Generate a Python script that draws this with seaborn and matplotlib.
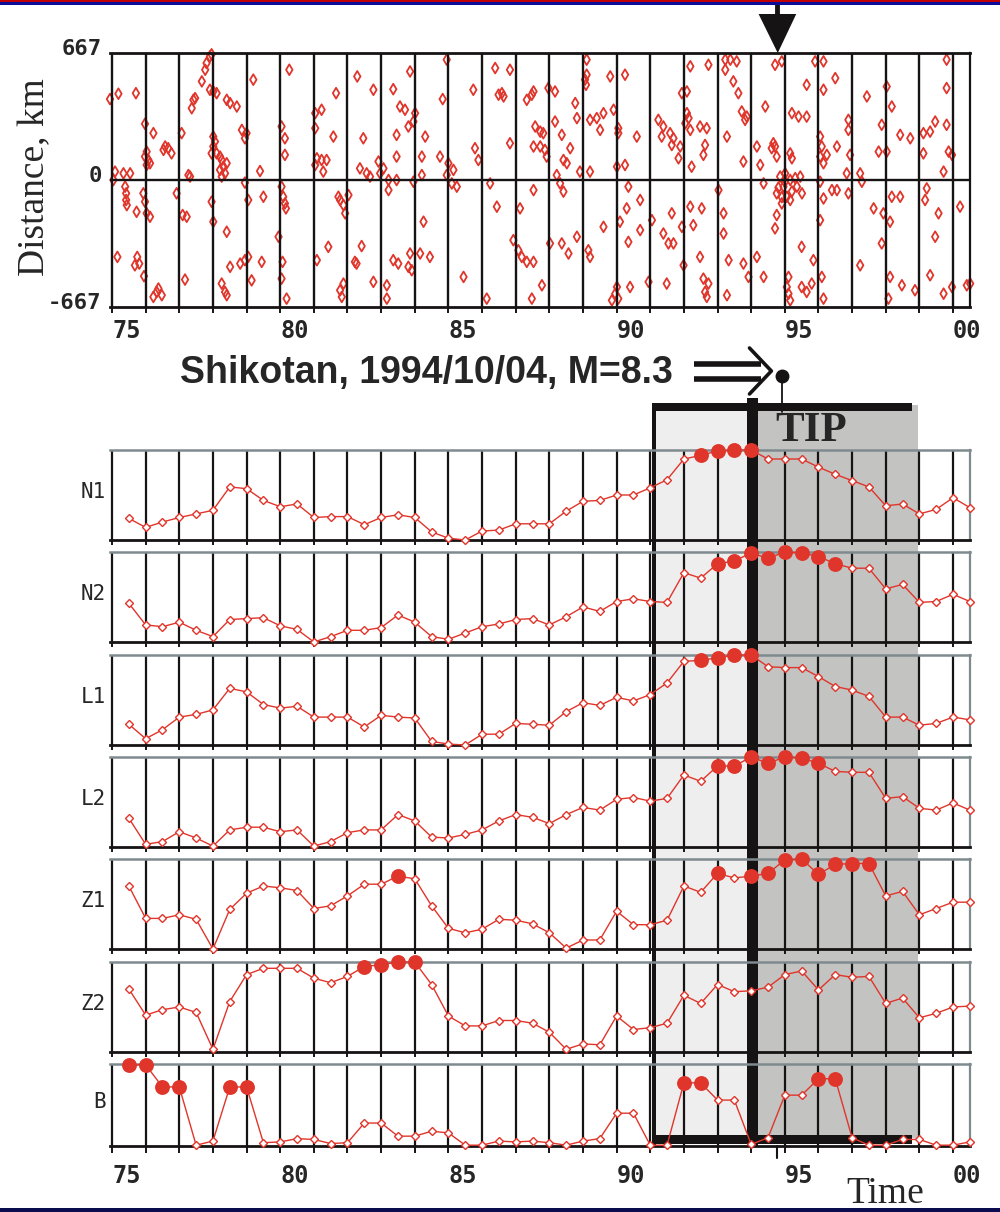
import numpy as np
import pandas as pd
import matplotlib
matplotlib.use("Agg")
import matplotlib.pyplot as plt
import seaborn as sns
from matplotlib.patches import Rectangle, Polygon
from matplotlib.transforms import ScaledTranslation

# ---------------- data ----------------
# event epicentres (top panel): time (years) and distance along the zone (km)
ev_year = [
    1974.94, 1975.19, 1975.71, 1975.98, 1976.23, 1975.09, 1975.34, 1975.54, 1975.04, 1975.39,
    1975.42, 1975.42, 1975.44, 1975.93, 1975.98, 1975.73, 1976.03, 1976.13, 1975.98, 1976.08,
    1976.03, 1976.13, 1976.03, 1975.16, 1975.75, 1975.81, 1975.68, 1975.95, 1976.33, 1976.48,
    1976.23, 1976.38, 1976.58, 1976.67, 1976.77, 1976.53, 1977.07, 1976.92, 1977.10, 1977.22,
    1977.17, 1977.27, 1977.32, 1977.67, 1977.77, 1977.81, 1977.91, 1977.96, 1977.42, 1977.37,
    1977.47, 1977.91, 1978.11, 1978.01, 1978.01, 1978.06, 1978.01, 1978.11, 1977.96, 1978.21,
    1978.26, 1978.31, 1978.41, 1978.21, 1978.26, 1978.36, 1977.96, 1978.01, 1978.26, 1978.36,
    1978.41, 1978.41, 1978.51, 1978.71, 1978.86, 1978.95, 1979.00, 1978.95, 1979.05, 1978.41,
    1978.51, 1978.81, 1978.95, 1979.05, 1979.15, 1979.20, 1979.50, 1979.40, 1979.45, 1979.95,
    1980.04, 1980.14, 1980.14, 1980.04, 1980.09, 1980.14, 1980.17, 1980.07, 1980.04, 1980.19,
    1980.27, 1981.04, 1981.23, 1981.04, 1981.09, 1981.23, 1981.38, 1981.04, 1981.28, 1981.09,
    1981.43, 1981.58, 1981.66, 1981.73, 1981.78, 1981.88, 1981.93, 1982.03, 1981.88, 1981.78,
    1981.83, 1982.22, 1982.27, 1982.29, 1982.47, 1982.37, 1982.57, 1982.67, 1982.42, 1982.77,
    1983.36, 1982.92, 1982.97, 1983.07, 1983.22, 1983.22, 1983.46, 1983.46, 1982.77, 1983.17,
    1983.17, 1983.36, 1983.51, 1983.56, 1983.71, 1983.86, 1984.01, 1983.96, 1983.81, 1983.46,
    1983.96, 1984.21, 1984.21, 1983.81, 1983.91, 1983.86, 1984.16, 1984.45, 1984.26, 1984.31,
    1984.83, 1984.95, 1984.75, 1985.00, 1985.15, 1984.95, 1985.25, 1985.10, 1985.45, 1985.74,
    1985.79, 1985.89, 1986.14, 1986.24, 1986.39, 1986.44, 1986.49, 1986.83, 1986.59, 1986.64,
    1986.83, 1987.13, 1986.93, 1987.08, 1987.18, 1987.33, 1987.53, 1987.78, 1987.48, 1987.33,
    1987.48, 1987.53, 1987.58, 1987.73, 1987.82, 1987.53, 1987.73, 1987.87, 1987.92, 1987.97,
    1988.17, 1988.17, 1988.37, 1988.62, 1988.42, 1988.52, 1988.77, 1988.82, 1988.22, 1988.32,
    1988.42, 1987.53, 1988.02, 1988.37, 1988.57, 1988.82, 1989.06, 1989.11, 1989.09, 1989.11,
    1988.91, 1989.21, 1989.21, 1989.41, 1989.61, 1989.91, 1989.81, 1990.25, 1989.51, 1990.05,
    1990.05, 1990.01, 1990.25, 1989.21, 1989.16, 1989.61, 1990.10, 1989.96, 1990.01, 1989.86,
    1990.05, 1990.40, 1990.35, 1990.30, 1990.70, 1990.35, 1990.60, 1990.70, 1991.05, 1990.95,
    1991.24, 1991.39, 1991.34, 1991.59, 1991.69, 1991.64, 1991.89, 1991.84, 1991.49, 1991.64,
    1991.39, 1991.54, 1991.69, 1991.94, 1992.09, 1992.09, 1992.04, 1992.14, 1992.19, 1992.48,
    1992.68, 1992.19, 1992.73, 1992.19, 1992.53, 1991.94, 1992.28, 1992.23, 1992.63, 1992.58,
    1992.48, 1991.99, 1992.68, 1992.63, 1992.58, 1992.73, 1993.03, 1993.18, 1993.18, 1993.28,
    1993.28, 1993.23, 1993.38, 1993.57, 1993.23, 1993.47, 1993.62, 1993.33, 1993.72, 1993.87,
    1993.82, 1993.77, 1993.77, 1993.92, 1994.37, 1994.17, 1994.17, 1994.27, 1994.42, 1994.37,
    1994.61, 1994.71, 1994.76, 1994.66, 1994.71, 1994.91, 1994.76, 1994.71, 1994.86, 1994.96,
    1995.06, 1995.16, 1995.36, 1995.46, 1994.91, 1995.16, 1995.51, 1995.01, 1994.76, 1995.21,
    1995.41, 1995.65, 1995.16, 1995.21, 1995.06, 1995.11, 1995.16, 1995.11, 1995.50, 1995.65,
    1995.80, 1995.50, 1995.85, 1995.65, 1995.90, 1996.15, 1996.15, 1996.05, 1996.10, 1996.05,
    1996.15, 1996.25, 1996.50, 1996.55, 1996.05, 1996.15, 1996.40, 1996.55, 1996.89, 1996.05,
    1996.10, 1996.15, 1996.89, 1996.89, 1996.94, 1996.84, 1997.24, 1997.29, 1997.24, 1997.44,
    1997.79, 1998.03, 1998.03, 1997.88, 1998.18, 1997.64, 1997.93, 1998.13, 1998.18, 1998.43,
    1997.88, 1998.13, 1998.48, 1998.08, 1998.43, 1998.73, 1999.12, 1999.32, 1999.47, 1999.81,
    1999.12, 1999.22, 1999.17, 1999.57, 1999.47, 1998.87, 1999.32, 1999.72, 1999.97, 1999.81,
    1999.81, 1999.72, 1999.87, 1999.97, 2000.21, 2000.41, 2000.51, 1994.81, 1995.00, 1995.21,
    1994.91, 1995.31,
]
ev_km = [
    425, 453, 456, 295, 246, 44, 35, 35, 0, -35,
    -70, -105, -132, -70, -114, -167, -175, -193, 123, 105,
    79, 88, 149, -404, -404, -439, -448, -505, -588, -605,
    -614, -570, 176, 167, 140, 158, 246, -70, -184, -193,
    -523, 26, 18, 518, 579, 614, 649, 660, 421, 377,
    430, 474, 456, 465, 228, 202, 176, 140, 140, 123,
    105, 70, 88, 53, 18, 35, -114, -219, -544, -588,
    -605, 421, 404, 386, 263, 219, 246, -14, -105, -272,
    -456, -439, -421, -404, -527, 527, -88, 47, -430, -298,
    281, 219, 132, -35, -88, -123, -149, -430, -518, -623,
    579, 351, 369, 272, 114, 105, 105, 79, 44, -421,
    -351, 228, 456, -88, -105, -132, -175, -79, -544, -579,
    -614, -430, -439, 544, 219, 61, 35, 18, -347, 474,
    477, 97, 35, 61, 0, -53, 237, 123, -535, -553,
    -623, -421, -439, 386, 369, 570, 351, 307, 281, 0,
    -9, 123, 26, -456, -474, -386, -386, -404, -219, 228,
    425, 632, 123, 88, 53, 26, -35, -18, -509, 474,
    167, 105, -623, -18, 588, -140, 448, 579, 456, 439,
    193, -149, -316, -369, -404, -430, -430, -553, -623, 421,
    448, 465, 281, 254, 246, 176, 176, 158, 123, 483,
    465, 307, 237, 167, 105, 88, 404, 325, 26, -18,
    -61, -53, -333, -333, -386, -298, 527, 553, 500, 632,
    44, 44, 316, 325, 351, 369, 544, 553, 263, 272,
    246, 70, 79, -404, -369, -246, -219, -597, -562, -632,
    -623, -562, -35, -149, -105, -325, 228, -263, -211, -535,
    316, 281, 228, 246, 219, 184, 176, 114, -544, -175,
    -281, -333, -333, 456, 465, 351, 298, 325, 263, 281,
    272, 597, 605, -140, -149, -246, -237, 70, 184, 132,
    -404, -448, -614, -588, -518, -544, -53, -281, -175, 228,
    -605, 632, 632, 623, 579, 518, 456, -421, 360, 333,
    316, 97, -439, -509, -509, -404, 176, 79, 386, -18,
    167, 176, 123, 193, 605, 623, -184, -254, 18, -35,
    -88, 0, -35, 18, -123, -105, -70, 35, -70, 351,
    333, 333, 140, 114, -562, -597, -632, -509, -562, -588,
    -544, -351, -421, 500, 623, 623, 474, 228, 176, 123,
    88, 132, 535, 176, -9, -97, -53, -53, -70, -211,
    -509, -623, 316, 263, 132, 35, 35, -9, -448, 439,
    149, 149, 491, 290, 386, -149, -175, -219, -88, -88,
    -333, -509, -553, -623, 237, 219, 246, 254, 307, 290,
    140, -44, -105, -175, -298, -579, -500, -597, -562, 632,
    483, 44, 149, 132, -140, -553, -544, -40, -10, -60,
    -90, 10,
]

# half-year sampling times of the functions
t = [1975.5, 1976.0, 1976.5, 1977.0, 1977.5, 1978.0, 1978.5, 1979.0, 1979.5, 1980.0,
     1980.5, 1981.0, 1981.5, 1982.0, 1982.5, 1983.0, 1983.5, 1984.0, 1984.5, 1985.0,
     1985.5, 1986.0, 1986.5, 1987.0, 1987.5, 1988.0, 1988.5, 1989.0, 1989.5, 1990.0,
     1990.5, 1991.0, 1991.5, 1992.0, 1992.5, 1993.0, 1993.5, 1994.0, 1994.5, 1995.0,
     1995.5, 1996.0, 1996.5, 1997.0, 1997.5, 1998.0, 1998.5, 1999.0, 1999.5, 2000.0,
     2000.5]

N1 = [0.24, 0.14, 0.20, 0.25, 0.29, 0.33, 0.59, 0.57, 0.44, 0.37, 0.40, 0.25, 0.26,
      0.26, 0.17, 0.25, 0.28, 0.25, 0.09, 0.02, 0.00, 0.10, 0.11, 0.18, 0.18, 0.18,
      0.32, 0.43, 0.44, 0.50, 0.50, 0.58, 0.67, 0.90, 0.94, 0.99, 1.00, 1.00, 0.90,
      0.90, 0.90, 0.81, 0.73, 0.66, 0.59, 0.38, 0.40, 0.29, 0.34, 0.47, 0.36]
N2 = [0.43, 0.19, 0.17, 0.22, 0.13, 0.06, 0.25, 0.26, 0.27, 0.18, 0.14, 0.00, 0.06,
      0.13, 0.13, 0.16, 0.30, 0.22, 0.06, 0.03, 0.10, 0.17, 0.20, 0.25, 0.26, 0.19,
      0.28, 0.39, 0.34, 0.45, 0.48, 0.45, 0.44, 0.77, 0.71, 0.87, 0.90, 0.99, 0.93,
      1.00, 0.99, 0.95, 0.87, 0.82, 0.82, 0.59, 0.64, 0.44, 0.45, 0.53, 0.45]
L1 = [0.23, 0.07, 0.17, 0.31, 0.34, 0.39, 0.63, 0.59, 0.45, 0.41, 0.43, 0.31, 0.31,
      0.31, 0.20, 0.33, 0.31, 0.30, 0.04, 0.01, 0.00, 0.12, 0.12, 0.24, 0.23, 0.22,
      0.37, 0.47, 0.44, 0.53, 0.49, 0.56, 0.69, 0.93, 0.94, 0.97, 1.00, 1.00, 0.87,
      0.86, 0.86, 0.76, 0.65, 0.61, 0.54, 0.31, 0.31, 0.22, 0.24, 0.31, 0.28]
L2 = [0.32, 0.03, 0.06, 0.17, 0.10, 0.01, 0.19, 0.22, 0.22, 0.17, 0.19, 0.01, 0.06,
      0.16, 0.19, 0.19, 0.36, 0.29, 0.11, 0.10, 0.14, 0.19, 0.29, 0.36, 0.33, 0.26,
      0.36, 0.44, 0.41, 0.53, 0.55, 0.51, 0.54, 0.80, 0.73, 0.90, 0.90, 1.00, 0.93,
      1.00, 0.99, 0.93, 0.84, 0.83, 0.83, 0.54, 0.56, 0.43, 0.41, 0.49, 0.41]
Z1 = [0.70, 0.34, 0.34, 0.38, 0.33, 0.00, 0.44, 0.62, 0.70, 0.68, 0.65, 0.45, 0.48,
      0.59, 0.72, 0.72, 0.81, 0.78, 0.48, 0.23, 0.18, 0.22, 0.33, 0.32, 0.28, 0.18,
      0.01, 0.10, 0.10, 0.42, 0.27, 0.27, 0.32, 0.70, 0.63, 0.84, 0.79, 0.81, 0.84,
      0.99, 1.00, 0.83, 0.94, 0.95, 0.95, 0.59, 0.64, 0.38, 0.45, 0.52, 0.52]
Z2 = [0.70, 0.41, 0.47, 0.50, 0.44, 0.03, 0.56, 0.86, 0.93, 0.93, 0.93, 0.82, 0.77,
      0.84, 0.95, 0.97, 1.00, 1.00, 0.75, 0.40, 0.29, 0.29, 0.35, 0.35, 0.32, 0.22,
      0.03, 0.09, 0.08, 0.40, 0.25, 0.27, 0.32, 0.63, 0.54, 0.75, 0.67, 0.68, 0.72,
      0.86, 0.90, 0.69, 0.86, 0.83, 0.84, 0.54, 0.60, 0.38, 0.43, 0.50, 0.51]
B = [0.99, 0.99, 0.72, 0.72, 0.01, 0.06, 0.72, 0.72, 0.04, 0.05, 0.09, 0.08, 0.03,
     0.04, 0.28, 0.28, 0.12, 0.12, 0.18, 0.16, 0.01, 0.01, 0.06, 0.05, 0.06, 0.04,
     0.01, 0.06, 0.09, 0.40, 0.40, 0.01, 0.01, 0.77, 0.77, 0.56, 0.56, 0.02, 0.10,
     0.62, 0.62, 0.82, 0.82, 0.10, 0.01, 0.01, 0.08, 0.08, 0.01, 0.01, 0.05]

# times at which each function is "high" (filled markers)
N1_high = [1992.5, 1993.0, 1993.5, 1994.0]
N2_high = [1993.0, 1993.5, 1994.0, 1994.5, 1995.0, 1995.5, 1996.0, 1996.5]
L1_high = [1992.5, 1993.0, 1993.5, 1994.0]
L2_high = [1993.0, 1993.5, 1994.0, 1994.5, 1995.0, 1995.5, 1996.0]
Z1_high = [1983.5, 1993.0, 1994.0, 1994.5, 1995.0, 1995.5, 1996.0, 1996.5, 1997.0, 1997.5]
Z2_high = [1982.5, 1983.0, 1983.5, 1984.0]
B_high = [1975.5, 1976.0, 1976.5, 1977.0, 1978.5, 1979.0, 1992.0, 1992.5, 1996.0, 1996.5]

panel_names = ["N1", "N2", "L1", "L2", "Z1", "Z2", "B"]

quake_t = 1994.77          # Shikotan, 1994/10/04
tip_start = 1991.11
tip_alarm = 1994.03
tip_end = 1998.96
box_end = 1998.78

year_ticks = [1975, 1980, 1985, 1990, 1995, 2000]
year_labels = ["75", "80", "85", "90", "95", "00"]

# ---------------- style ----------------
sns.set_theme(style="white")
plt.rcParams["font.family"] = ["DejaVu Sans"]

RED = "#e0352b"
BLK = "#151313"
GRAYLINE = "#7f8a8e"
LIGHT = "#eeeeee"
DARK = "#c3c3c1"
MONO = "DejaVu Sans Mono"
SERIF = "Liberation Serif"

W, H = 1000, 1212
X0, X1 = 1974.94, 2000.505
fig = plt.figure(figsize=(W / 100, H / 100), dpi=100)
fig.patch.set_facecolor("white")


def rect(l, t_, r, b):
    return [l / W, 1 - b / H, (r - l) / W, (b - t_) / H]


# frame lines of the page
fig.add_artist(Rectangle((0, 1 - 2 / H), 1, 2 / H, transform=fig.transFigure, fc="#c00000", ec="none"))
fig.add_artist(Rectangle((0, 1 - 5 / H), 1, 3 / H, transform=fig.transFigure, fc="#0c0c9a", ec="none"))
fig.add_artist(Rectangle((0, 0), 1, 4 / H, transform=fig.transFigure, fc="#0b0b50", ec="none"))

# ---------------- background axes (TIP box, arrows) ----------------
bg = fig.add_axes(rect(110, 0, 970, H), zorder=0)
bg.set_xlim(X0, X1)
bg.set_ylim(H, 0)
bg.axis("off")

bg.add_patch(Rectangle((tip_start, 411), tip_end - tip_start, 1137 - 411, fc=LIGHT, ec="none"))
bg.add_patch(Rectangle((tip_alarm, 405), tip_end - tip_alarm, 1138 - 405, fc=DARK, ec="none"))
bg.add_patch(Rectangle((tip_start - 0.06, 403), box_end - tip_start + 0.06, 8, fc=BLK, ec="none"))
bg.add_patch(Rectangle((tip_start - 0.06, 403), 0.12, 1145 - 403, fc=BLK, ec="none"))
bg.add_patch(Rectangle((tip_start - 0.06, 1135), box_end - tip_start + 0.06, 9, fc=BLK, ec="none"))
bg.add_patch(Rectangle((tip_alarm - 0.16, 398), 0.32, 1146 - 398, fc=BLK, ec="none"))

# earthquake marker: arrow at top, dot + double arrow, tick at bottom
bg.plot([quake_t, quake_t], [4, 20], color=BLK, lw=3.5, solid_capstyle="butt")
bg.add_patch(Polygon([(quake_t - 0.55, 14), (quake_t + 0.57, 14), (quake_t + 0.02, 53)],
                     closed=True, fc=BLK, ec="none"))
bg.plot([quake_t + 0.15, quake_t + 0.15], [376, 412], color=BLK, lw=1.3)
bg.plot([quake_t + 0.15], [376], marker="o", ms=9, color=BLK)
bg.plot([1992.3, 1994.3], [364, 364], color=BLK, lw=4.0, solid_capstyle="butt")
bg.plot([1992.3, 1994.3], [379, 379], color=BLK, lw=4.0, solid_capstyle="butt")
bg.plot([1993.95, 1994.6, 1993.95], [348, 371, 394], color=BLK, lw=2.6)
bg.plot([quake_t, quake_t], [1146, 1158], color=BLK, lw=1.5)

# ---------------- top panel: epicentres ----------------
ax0 = fig.add_axes(rect(110, 53, 970, 307), zorder=2)
ax0.set_facecolor("white")
sns.scatterplot(x=ev_year, y=ev_km, ax=ax0, marker="d", s=30, linewidth=1.3,
                clip_on=False, zorder=2, legend=False)
coll = ax0.collections[-1]
coll.set_facecolor("none")
coll.set_edgecolor(RED)
ax0.set_xlim(X0, X1)
ax0.set_ylim(-667, 667)
ax0.set_xticks(year_ticks)
ax0.set_xticks(range(1975, 2001), minor=True)
ax0.set_xticklabels(year_labels, fontfamily=MONO, fontsize=17, fontweight="bold", ha="left")
ax0.set_yticks([-667, 0, 667])
ax0.set_yticklabels(["-667", "0", "667"], fontfamily=MONO, fontsize=16, fontweight="bold")
ax0.set_axisbelow(False)
ax0.grid(axis="x", which="both", color=BLK, lw=1.7, zorder=2.5)
ax0.grid(axis="y", visible=False)
ax0.axhline(0, color=BLK, lw=1.7, zorder=2.5)
ax0.tick_params(axis="x", which="both", direction="out", length=4, width=1.4, color=BLK,
                bottom=True, pad=5)
ax0.tick_params(axis="y", length=0, pad=6)
for lab in ax0.get_yticklabels():
    lab.set_transform(lab.get_transform() + ScaledTranslation(0, 0.06, fig.dpi_scale_trans))
for s in ["top", "bottom"]:
    ax0.spines[s].set_color(BLK)
    ax0.spines[s].set_linewidth(2.0)
ax0.spines["right"].set_color(BLK)
ax0.spines["right"].set_linewidth(1.6)
ax0.spines["left"].set_visible(False)

# ---------------- function panels ----------------
series = {"N1": N1, "N2": N2, "L1": L1, "L2": L2, "Z1": Z1, "Z2": Z2, "B": B}
highs = {"N1": N1_high, "N2": N2_high, "L1": L1_high, "L2": L2_high,
         "Z1": Z1_high, "Z2": Z2_high, "B": B_high}
extent = {"N1": (450, 540), "N2": (552, 642), "L1": (655, 745), "L2": (757, 847),
          "Z1": (859, 949), "Z2": (962, 1052), "B": (1064, 1146)}

for name in panel_names:
    top, bot = extent[name]
    vals = series[name]
    ax = fig.add_axes(rect(110, top, 970, bot), zorder=2)
    ax.patch.set_alpha(0)
    df = pd.DataFrame({"t": t, "v": vals})
    sns.lineplot(data=df, x="t", y="v", ax=ax, color=RED, lw=1.0, marker="D",
                 markersize=4.0, markerfacecolor="white", markeredgecolor=RED,
                 markeredgewidth=1.0, clip_on=False, zorder=3)
    hi = df[df["t"].isin(highs[name])]
    sns.scatterplot(data=hi, x="t", y="v", ax=ax, color=RED, s=115, marker="o",
                    linewidth=0, clip_on=False, zorder=4, legend=False)
    ax.set_xlim(X0, X1)
    ax.set_ylim(0, 1)
    ax.set_xlabel("")
    ax.set_ylabel("")
    ax.set_yticks([])
    ax.set_xticks(range(1975, 2001))
    ax.set_axisbelow(True)
    ax.grid(axis="x", color=BLK, lw=1.6)
    ax.grid(axis="y", visible=False)
    ax.spines["left"].set_visible(False)
    ax.spines["top"].set_color(GRAYLINE)
    ax.spines["top"].set_linewidth(1.8)
    ax.spines["right"].set_color(GRAYLINE)
    ax.spines["right"].set_linewidth(1.6)
    ax.spines["bottom"].set_color(BLK)
    ax.spines["bottom"].set_linewidth(2.0)
    if name == "B":
        labels = [year_labels[year_ticks.index(y)] if y in year_ticks else "" for y in range(1975, 2001)]
        ax.set_xticklabels(labels, fontfamily=MONO, fontsize=17, fontweight="bold", ha="left")
        ax.tick_params(axis="x", direction="out", length=5, width=1.4, color=BLK,
                       bottom=True, pad=8)
    else:
        ax.tick_params(axis="x", direction="out", length=3.5, width=1.4, color=BLK,
                       bottom=True, labelbottom=False)
    fig.text(106 / W, 1 - ((top + bot) / 2 - 3) / H, name, ha="right", va="center",
             fontsize=15, fontfamily=MONO)

# ---------------- texts ----------------
fig.text(180 / W, 1 - 383 / H, "Shikotan, 1994/10/04, M=8.3", fontsize=27, fontweight="bold",
         fontfamily=["Liberation Sans", "DejaVu Sans"], ha="left", va="baseline")
fig.text(811 / W, 1 - 431 / H, "TIP", fontsize=31, fontweight="bold", fontfamily=SERIF,
         ha="center", va="center", zorder=5)
fig.text(885 / W, 1 - 1194 / H, "Time", fontsize=27, fontfamily=SERIF, ha="center", va="center")
fig.text(35 / W, 1 - 177 / H, "Distance, km", rotation=90, fontsize=27, fontfamily=SERIF,
         ha="center", va="center")

assert len(ev_year) == len(ev_km)
fig.savefig("out.png", dpi=100, facecolor="white")
